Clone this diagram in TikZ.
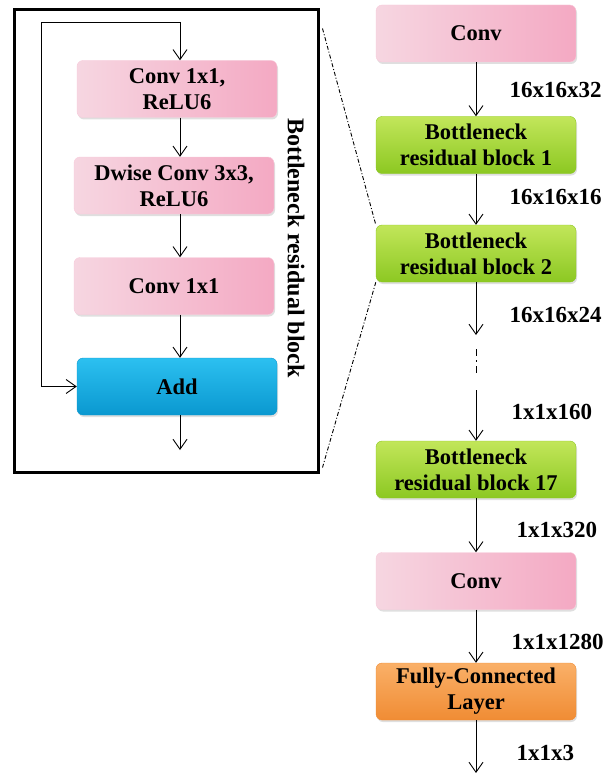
\documentclass[tikz,border=0pt]{standalone}
\usepackage{fontspec}
\setmainfont{Liberation Serif}
\usetikzlibrary{arrows.meta,shadows}
\definecolor{pinkA}{HTML}{F6D6E1}
\definecolor{pinkB}{HTML}{F4A9C3}
\definecolor{greenA}{HTML}{C2E65A}
\definecolor{greenB}{HTML}{8CC822}
\definecolor{blueA}{HTML}{2CC0F0}
\definecolor{blueB}{HTML}{0A98D0}
\definecolor{orangeA}{HTML}{FAB068}
\definecolor{orangeB}{HTML}{F08C34}

\begin{document}
\begin{tikzpicture}[x=1pt,y=-1pt,>={Straight Barb[length=10pt,width=14pt]},
  layer/.style={rounded corners=6pt,minimum width=200pt,minimum height=57pt,align=center,inner sep=0pt,
    font=\fontsize{22.5}{26}\selectfont\bfseries,drop shadow={opacity=0.25,shadow xshift=1pt,shadow yshift=-2pt}},
  pinkbox/.style={layer,left color=pinkA,right color=pinkB,draw=pinkB!60},
  greenbox/.style={layer,top color=greenA,bottom color=greenB,draw=greenB},
  bluebox/.style={layer,top color=blueA,bottom color=blueB,draw=blueB},
  orangebox/.style={layer,top color=orangeA,bottom color=orangeB,draw=orangeB},
  dim/.style={anchor=west,font=\fontsize{23}{26}\selectfont\bfseries},
  flow/.style={->,line width=0.9pt},
  zoomline/.style={line width=0.9pt,dash pattern=on 4pt off 2pt on 1pt off 2pt}]
  \useasboundingbox (0,0) rectangle (613,773);
  % bottleneck residual block, detail
  \node[draw,line width=3pt,minimum width=304pt,minimum height=462pt,inner sep=0pt] (blk) at (166,241) {};
  \node[rotate=-90,font=\fontsize{24}{26}\selectfont\bfseries] (blkname) at (296,248) {Bottleneck residual block};
  \coordinate (top) at (180,22);
  \coordinate (loop) at (41,22);
  \node[pinkbox] (c1) at (177,89) {Conv 1x1,\\ReLU6};
  \node[pinkbox] (dw) at (174,185.5) {Dwise Conv 3x3,\\ReLU6};
  \node[pinkbox] (c2) at (174,286) {Conv 1x1};
  \node[bluebox] (add) at (177,386.5) {Add};
  \coordinate (out) at (180,450);
  \draw[flow] (top) -- (c1.north -| top);
  \draw[flow] (c1.south -| top) -- (dw.north -| top);
  \draw[flow] (dw.south -| top) -- (c2.north -| top);
  \draw[flow] (c2.south -| top) -- (add.north -| top);
  \draw[flow] (add.south -| top) -- (out);
  \draw[flow] (top) -- (loop) |- (add.west);
  % network
  \node[pinkbox] (conv1) at (476,33.5) {Conv};
  \node[greenbox] (bn1) at (476,145) {Bottleneck\\residual block 1};
  \node[greenbox] (bn2) at (476,253.5) {Bottleneck\\residual block 2};
  \node[greenbox] (bn17) at (476,469.5) {Bottleneck\\residual block 17};
  \node[pinkbox] (conv2) at (476,581) {Conv};
  \node[orangebox] (fc) at (476,691.5) {Fully-Connected\\Layer};
  \coordinate (gapA) at (476,335);
  \coordinate (gapB) at (476,349);
  \coordinate (gapC) at (476,375);
  \coordinate (gapD) at (476,390);
  \coordinate (end) at (476,773);
  \draw[flow] (conv1) -- (bn1);
  \draw[flow] (bn1) -- (bn2);
  \draw[flow] (bn2) -- (gapA);
  \draw[line width=1pt,dash pattern=on 7pt off 4pt on 2pt off 4pt] (gapB) -- (gapC);
  \draw[flow] (gapD) -- (bn17);
  \draw[flow] (bn17) -- (conv2);
  \draw[flow] (conv2) -- (fc);
  \draw[flow] (fc) -- (end);
  \node[dim] (d1) at (506,90) {16x16x32};
  \node[dim] (d2) at (506,197) {16x16x16};
  \node[dim] (d3) at (506,315) {16x16x24};
  \node[dim] (d4) at (508,412) {1x1x160};
  \node[dim] (d5) at (513,530) {1x1x320};
  \node[dim] (d6) at (508,642) {1x1x1280};
  \node[dim] (d7) at (513,753) {1x1x3};
  % zoom lines
  \draw[zoomline] ([yshift=-20pt,xshift=3pt]blk.north east) -- (bn2.north west);
  \draw[zoomline] (bn2.south west) -- ([yshift=6pt,xshift=3pt]blk.south east);
\end{tikzpicture}
\end{document}
